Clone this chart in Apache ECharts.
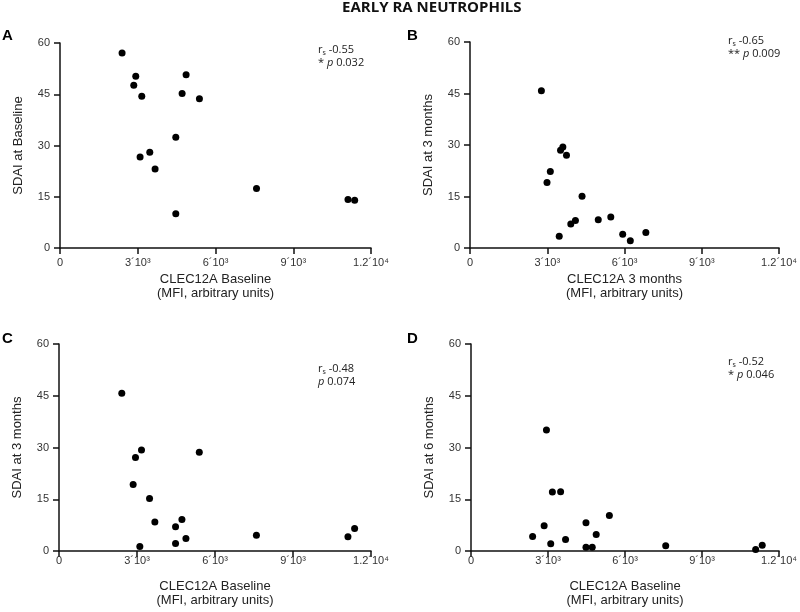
<!DOCTYPE html>
<html>
<head>
<meta charset="utf-8">
<script src="https://cdn.jsdelivr.net/npm/echarts@6/dist/echarts.min.js"></script>
<style>html,body{margin:0;padding:0;background:#fff;}#chart{width:800px;height:612px;}</style>
</head>
<body>
<div id="chart"></div>
<script>
// ---- data ----
const chartTitle = 'EARLY RA NEUTROPHILS';
const panelLetters = ['A', 'B', 'C', 'D'];
const xTickValues = [0, 3000, 6000, 9000, 12000];
const xTickLabels = ['0', '3´10³', '6´10³', '9´10³', '1.2´10⁴'];
const yTickValues = [0, 15, 30, 45, 60];
const xNames = ['CLEC12A Baseline\n(MFI, arbitrary units)', 'CLEC12A 3 months\n(MFI, arbitrary units)', 'CLEC12A Baseline\n(MFI, arbitrary units)', 'CLEC12A Baseline\n(MFI, arbitrary units)'];
const yNames = ['SDAI at Baseline', 'SDAI at 3 months', 'SDAI at 3 months', 'SDAI at 6 months'];
const rsValues = ['-0.55', '-0.65', '-0.48', '-0.52'];
const pStars = ['*', '**', '', '*'];
const pValues = ['0.032', '0.009', '0.074', '0.046'];

const aX = [2395, 2923, 2846, 3155, 4866, 4712, 5380, 4468, 3464, 3090, 3669, 7582, 11112, 11370, 4468];
const aY = [57.1, 50.3, 47.6, 44.4, 50.7, 45.2, 43.7, 32.4, 28.0, 26.6, 23.1, 17.4, 14.2, 14.0, 10.0];
const bX = [2772, 3606, 3516, 3747, 3119, 2990, 4351, 4094, 3914, 4980, 5467, 3465, 5929, 6225, 6828];
const bY = [45.8, 29.4, 28.5, 27.0, 22.3, 19.1, 15.1, 8.0, 7.0, 8.2, 9.0, 3.4, 4.0, 2.1, 4.5];
const cX = [2415, 3173, 2942, 5396, 2852, 3482, 3687, 4728, 4483, 4882, 4483, 3109, 7593, 11113, 11370];
const cY = [45.7, 29.3, 27.1, 28.6, 19.3, 15.2, 8.4, 9.1, 7.0, 3.6, 2.2, 1.3, 4.6, 4.1, 6.5];
const dX = [2939, 3170, 3491, 5390, 2849, 4479, 2400, 4877, 3683, 3106, 4479, 4723, 7585, 11089, 11345];
const dY = [35.1, 17.1, 17.2, 10.3, 7.3, 8.2, 4.2, 4.8, 3.3, 2.1, 1.1, 1.1, 1.5, 0.4, 1.7];

// ---- layout ----
const grids = [
  {left: 60, top: 43, width: 311, height: 205},
  {left: 470, top: 42, width: 312, height: 206},
  {left: 59, top: 344, width: 312, height: 207},
  {left: 471, top: 344, width: 311, height: 207}
];
const letterPos = [[2, 28], [407, 28], [2, 331], [407, 331]];
const statPos = [[318, 43], [728, 34], [318, 362], [728, 355]];
const xLabelMargin = [9, 9, 4, 4];
const xNameGap = [24, 24, 28, 28];

const seriesXY = [[aX, aY], [bX, bY], [cX, cY], [dX, dY]];

const labelFont = 'Liberation Sans, Arial, sans-serif';
const statFont = 'Open Sans, sans-serif';

const xAxes = [], yAxes = [], series = [], titles = [];
titles.push({
  text: chartTitle, left: 342, top: 0, padding: 0,
  textStyle: {fontFamily: statFont, fontWeight: 'bold', fontSize: 15, color: '#111'}
});
for (let i = 0; i < 4; i++) {
  xAxes.push({
    gridIndex: i, type: 'value', min: 0, max: 12000, interval: 3000,
    name: xNames[i], nameLocation: 'middle', nameGap: xNameGap[i],
    nameTextStyle: {fontFamily: labelFont, fontSize: 13, color: '#222', lineHeight: 14},
    axisLine: {show: true, lineStyle: {color: '#111', width: 1.5}},
    axisTick: {show: true, length: 6, lineStyle: {color: '#111', width: 1.5}},
    axisLabel: {margin: xLabelMargin[i], fontFamily: labelFont, fontSize: 11, color: '#333',
      formatter: v => { const k = xTickValues.indexOf(v); return k >= 0 ? xTickLabels[k] : ''; }},
    splitLine: {show: false}
  });
  yAxes.push({
    gridIndex: i, type: 'value', min: 0, max: 60, interval: 15,
    name: yNames[i], nameLocation: 'middle', nameGap: 35, nameRotate: 90,
    nameTextStyle: {fontFamily: labelFont, fontSize: 13, color: '#222'},
    axisLine: {show: true, lineStyle: {color: '#111', width: 1.5}},
    axisTick: {show: true, length: 6, lineStyle: {color: '#111', width: 1.5}},
    axisLabel: {margin: 10, fontFamily: labelFont, fontSize: 11, color: '#333',
      formatter: v => yTickValues.indexOf(v) >= 0 ? String(v) : ''},
    splitLine: {show: false}
  });
  const [xs, ys] = seriesXY[i];
  series.push({
    type: 'scatter', xAxisIndex: i, yAxisIndex: i,
    data: xs.map((x, j) => [x, ys[j]]),
    symbol: 'circle', symbolSize: 7,
    itemStyle: {color: '#000', opacity: 1},
    emphasis: {disabled: true}
  });
  titles.push({
    text: panelLetters[i], left: letterPos[i][0], top: letterPos[i][1], padding: 0,
    textStyle: {fontFamily: labelFont, fontWeight: 'bold', fontSize: 15, color: '#000'}
  });
  titles.push({
    text: '{r|r}{s|s}{r| ' + rsValues[i] + '}\n{r|' + (pStars[i] ? pStars[i] + ' ' : '') + '}{i|p}{r| ' + pValues[i] + '}',
    left: statPos[i][0], top: statPos[i][1], padding: 0,
    textStyle: {
      fontFamily: statFont, fontSize: 11, fontWeight: 'normal', color: '#222', lineHeight: 13,
      rich: {
        r: {fontFamily: statFont, fontSize: 11, fontWeight: 'normal', color: '#222', lineHeight: 13},
        s: {fontFamily: statFont, fontSize: 7, fontWeight: 'normal', color: '#222', lineHeight: 13, verticalAlign: 'bottom', padding: [5, 0, 0, 0]},
        i: {fontFamily: statFont, fontSize: 11, fontWeight: 'normal', fontStyle: 'italic', color: '#222', lineHeight: 13}
      }
    }
  });
}

const chart = echarts.init(document.getElementById('chart'), null, {renderer: 'canvas'});
chart.setOption({
  animation: false,
  backgroundColor: '#fff',
  title: titles,
  grid: grids,
  xAxis: xAxes,
  yAxis: yAxes,
  series: series
});
</script>
</body>
</html>
